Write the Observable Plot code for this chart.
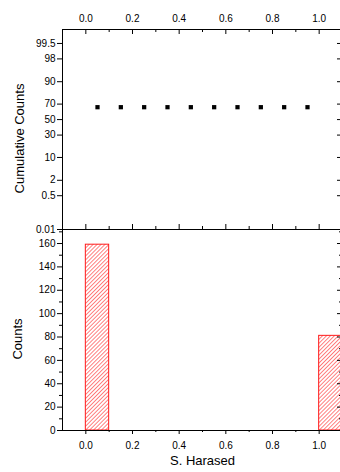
<!DOCTYPE html>
<html>
<head>
<meta charset="utf-8">
<script src="https://cdn.jsdelivr.net/npm/d3@7"></script>
<script src="https://cdn.jsdelivr.net/npm/@observablehq/plot@0.6"></script>
<style>
  html, body { margin: 0; padding: 0; background: #fff; overflow: hidden; }
  #wrap { position: relative; width: 340px; height: 472px; overflow: hidden; background: #fff; }
  #top, #bot { position: absolute; left: 0; }
  #top { top: 0; }
  #bot { top: 226px; }
</style>
</head>
<body>
<div id="wrap"><div id="top"></div><div id="bot"></div></div>
<script>
// ---- data ----
const binStart = [0.0, 0.1, 0.2, 0.3, 0.4, 0.5, 0.6, 0.7, 0.8, 0.9, 1.0];
const binCounts = [159, 0, 0, 0, 0, 0, 0, 0, 0, 0, 81];
const binWidth = 0.1;
const cumX = [0.05, 0.15, 0.25, 0.35, 0.45, 0.55, 0.65, 0.75, 0.85, 0.95];
const cumPct = [66.25, 66.25, 66.25, 66.25, 66.25, 66.25, 66.25, 66.25, 66.25, 66.25];
const probTicks = [0.01, 0.5, 2, 10, 30, 50, 70, 90, 98, 99.5];
const probTickLabels = ["0.01", "0.5", "2", "10", "30", "50", "70", "90", "98", "99.5"];
const xMajor = [0.0, 0.2, 0.4, 0.6, 0.8, 1.0];
const xMinor = [0.1, 0.3, 0.5, 0.7, 0.9];
const countMajor = [0, 20, 40, 60, 80, 100, 120, 140, 160];
const countMinor = [10, 30, 50, 70, 90, 110, 130, 150, 170];
const xTitle = "S. Harased";
const yTopTitle = "Cumulative Counts";
const yBotTitle = "Counts";

// inverse standard normal CDF (Acklam) for the probability axis
function qnorm(p) {
  const a = [-3.969683028665376e+01, 2.209460984245205e+02, -2.759285104469687e+02, 1.383577518672690e+02, -3.066479806614716e+01, 2.506628277459239e+00];
  const b = [-5.447609879822406e+01, 1.615858368580409e+02, -1.556989798598866e+02, 6.680131188771972e+01, -1.328068155288572e+01];
  const c = [-7.784894002430293e-03, -3.223964580411365e-01, -2.400758277161838e+00, -2.549671500254055e+00, 4.374664141464968e+00, 2.938163982698783e+00];
  const d = [7.784695709041462e-03, 3.224671290700398e-01, 2.445134137142996e+00, 3.754408661907416e+00];
  const pl = 0.02425, ph = 1 - pl;
  if (p < pl) { const q = Math.sqrt(-2 * Math.log(p)); return (((((c[0]*q+c[1])*q+c[2])*q+c[3])*q+c[4])*q+c[5]) / ((((d[0]*q+d[1])*q+d[2])*q+d[3])*q+1); }
  if (p <= ph) { const q = p - 0.5, r = q*q; return (((((a[0]*r+a[1])*r+a[2])*r+a[3])*r+a[4])*r+a[5])*q / (((((b[0]*r+b[1])*r+b[2])*r+b[3])*r+b[4])*r+1); }
  const q = Math.sqrt(-2 * Math.log(1 - p)); return -(((((c[0]*q+c[1])*q+c[2])*q+c[3])*q+c[4])*q+c[5]) / ((((d[0]*q+d[1])*q+d[2])*q+d[3])*q+1);
}

const font = "'Liberation Sans', Arial, sans-serif";
const W = 344, ML = 62, MR = 2;
const frameW = W - ML - MR;
const xDomain = [-0.1, 1.1];
const fmt1 = d3.format(".1f");
const baseStyle = { background: "none", overflow: "visible", maxWidth: "none", fontFamily: font, fontSize: "10px", color: "#000" };

// ---- top panel: cumulative (probability scale) ----
const topH = 232, topMT = 29, topMB = 3;
const topFH = topH - topMT - topMB;
const zTicks = probTicks.map(p => qnorm(p / 100));
const cumData = cumX.map((x, i) => ({ x, z: qnorm(cumPct[i] / 100) }));

const topPlot = Plot.plot({
  width: W, height: topH,
  marginLeft: ML, marginRight: MR, marginTop: topMT, marginBottom: topMB,
  style: baseStyle,
  x: { domain: xDomain },
  y: { domain: [qnorm(0.0001), qnorm(0.99885)] },
  marks: [
    Plot.frame({ stroke: "#000" }),
    Plot.axisX({ anchor: "top", ticks: xMajor, tickFormat: fmt1, tickSize: 0, tickPadding: 8, label: null, fontSize: 10 }),
    Plot.tickX(xMajor, { x: d => d, insetBottom: topFH - 5, stroke: "#000" }),
    Plot.tickX(xMinor, { x: d => d, insetBottom: topFH - 3, stroke: "#000" }),
    Plot.tickX(xMajor, { x: d => d, insetTop: topFH - 5, stroke: "#000" }),
    Plot.tickX(xMinor, { x: d => d, insetTop: topFH - 3, stroke: "#000" }),
    Plot.axisY({ anchor: "left", ticks: zTicks, tickFormat: (d, i) => probTickLabels[i], tickSize: 5, tickPadding: 2, label: null, fontSize: 10 }),
    Plot.tickY(zTicks, { y: d => d, insetLeft: frameW - 5, stroke: "#000" }),
    Plot.dot(cumData, { x: "x", y: "z", symbol: "square", r: 2.4, fill: "#000", stroke: null }),
    Plot.text([yTopTitle], { text: d => d, frameAnchor: "left", textAnchor: "middle", lineAnchor: "middle", rotate: -90, dx: -43, dy: 9, fontSize: 13, fontFamily: font })
  ]
});
document.getElementById("top").appendChild(topPlot);

// ---- bottom panel: histogram ----
const botH = 246, botMT = 3, botMB = 42;
const botFH = botH - botMT - botMB;
const bins = binStart.map((s, i) => ({ x1: s, x2: s + binWidth, count: binCounts[i] })).filter(d => d.count > 0);

const botPlot = Plot.plot({
  width: W, height: botH,
  marginLeft: ML, marginRight: MR, marginTop: botMT, marginBottom: botMB,
  style: baseStyle,
  x: { domain: xDomain },
  y: { domain: [0, 172] },
  marks: [
    Plot.rectY(bins, { x1: "x1", x2: "x2", y: "count", fill: "url(#hatch)", stroke: "#ff1a1a", strokeWidth: 1 }),
    Plot.frame({ stroke: "#000" }),
    Plot.axisX({ anchor: "bottom", ticks: xMajor, tickFormat: fmt1, tickSize: 4, tickPadding: 7, label: null, fontSize: 10 }),
    Plot.axisX({ anchor: "bottom", ticks: xMinor, tickFormat: () => "", tickSize: 2, label: null }),
    Plot.axisY({ anchor: "left", ticks: countMajor, tickFormat: d => String(d), tickSize: 5, tickPadding: 2, label: null, fontSize: 10 }),
    Plot.axisY({ anchor: "left", ticks: countMinor, tickFormat: () => "", tickSize: 3, label: null }),
    Plot.tickY(countMajor, { y: d => d, insetLeft: frameW - 5, stroke: "#000" }),
    Plot.tickY(countMinor, { y: d => d, insetLeft: frameW - 3, stroke: "#000" }),
    Plot.text([yBotTitle], { text: d => d, frameAnchor: "left", textAnchor: "middle", lineAnchor: "middle", rotate: -90, dx: -45, dy: 9, fontSize: 13, fontFamily: font }),
    Plot.text([xTitle], { text: d => d, frameAnchor: "bottom", textAnchor: "middle", lineAnchor: "middle", dy: 30, fontSize: 13, fontFamily: font })
  ]
});
const defs = d3.select(botPlot).insert("defs", ":first-child");
const pat = defs.append("pattern")
  .attr("id", "hatch").attr("patternUnits", "userSpaceOnUse")
  .attr("width", 2.8).attr("height", 2.8).attr("patternTransform", "rotate(45)");
pat.append("rect").attr("width", 2.8).attr("height", 2.8).attr("fill", "#fff");
pat.append("line").attr("x1", 0).attr("y1", 0).attr("x2", 0).attr("y2", 2.8)
  .attr("stroke", "#ff1a1a").attr("stroke-width", 1.1);
document.getElementById("bot").appendChild(botPlot);
</script>
</body>
</html>
